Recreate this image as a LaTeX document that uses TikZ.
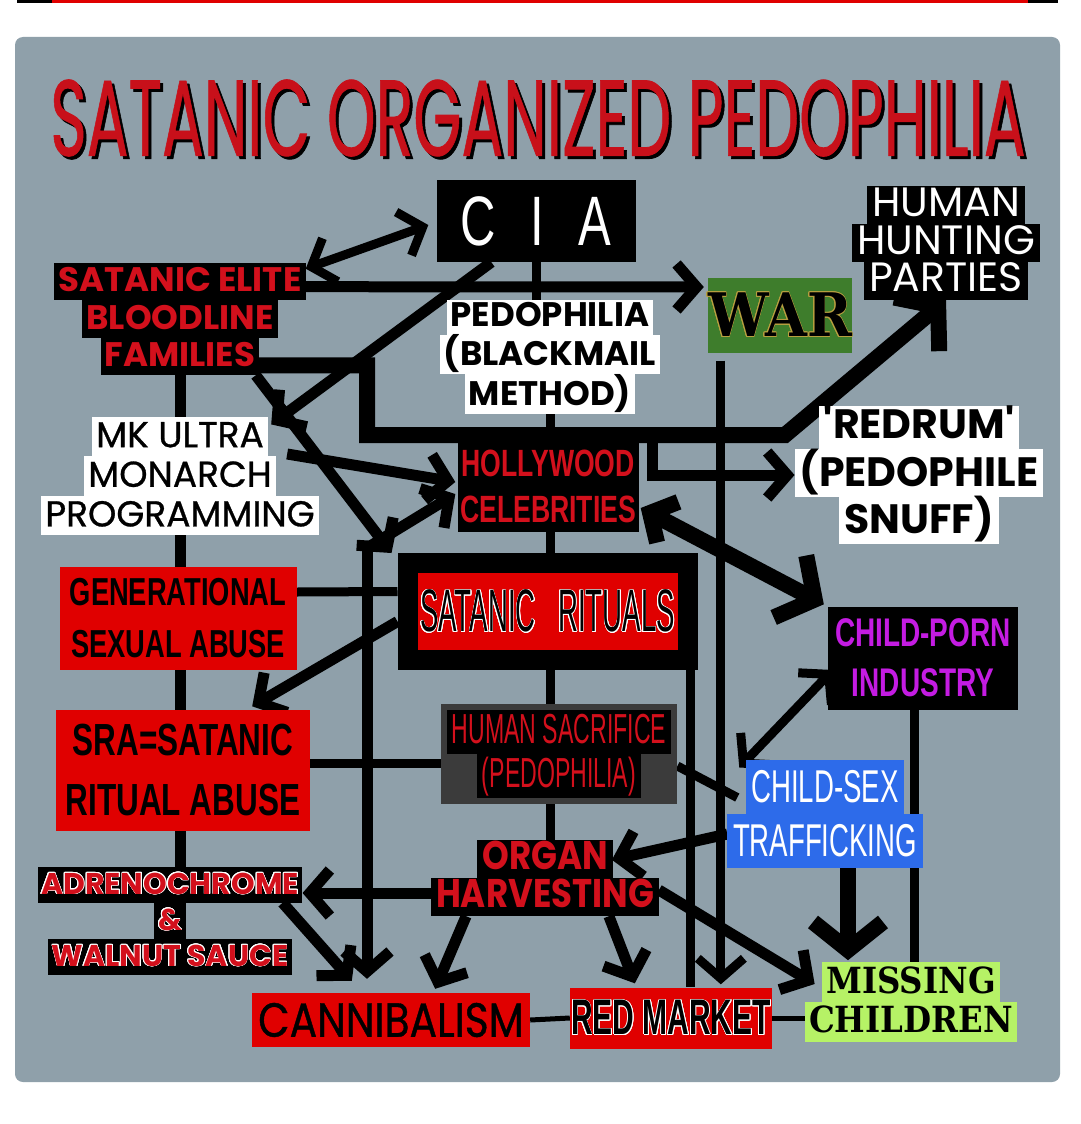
\documentclass[tikz,border=0pt]{standalone}
\usepackage{fontspec}
\usepackage{graphicx}
\usepackage{contour}
\usetikzlibrary{arrows.meta, calc, backgrounds, positioning}
\setmainfont{Liberation Sans}
\newfontfamily\geo[FakeStretch=0.85]{Poppins}
\newfontfamily\geoW{Poppins}
\newfontfamily\geoM[FakeBold=0.8]{Poppins}
\newfontfamily\geoMN[FakeBold=0.8, FakeStretch=0.85]{Poppins}
\newfontfamily\narrow[FakeStretch=0.7]{Liberation Sans}
\newfontfamily\mnarrow[FakeStretch=0.6]{Liberation Sans}
\newfontfamily\snarrow[FakeStretch=0.55]{Liberation Sans}
\newfontfamily\vnarrow[FakeStretch=0.46]{Liberation Sans}
\newfontfamily\slab[FakeStretch=0.9]{DejaVu Serif}
\definecolor{PanelGray}{HTML}{8FA0AA}
\definecolor{BoxRed}{HTML}{E00000}
\definecolor{TextRed}{HTML}{D3101C}
\definecolor{TitleRed}{HTML}{C8101A}
\definecolor{WarGreen}{HTML}{3E7D2C}
\definecolor{WarEdge}{HTML}{B8A040}
\definecolor{PornMagenta}{HTML}{C41CE2}
\definecolor{SexBlue}{HTML}{2D6BEA}
\definecolor{MissGreen}{HTML}{B6F266}
\definecolor{SacGray}{HTML}{3B3B3B}
\setlength{\fboxsep}{0pt}
\setlength{\lineskip}{0pt}
\setlength{\lineskiplimit}{0pt}
\newcommand{\hldp}{.25em}
\newcommand{\hlht}{1.1em}
\newcommand{\hl}[2]{\colorbox{#1}{\hspace{.12em}\rule[-\hldp]{0pt}{\hlht}#2\hspace{.12em}}}
\contourlength{0.7pt}

\begin{document}
\begin{tikzpicture}[x=1pt, y=-1pt,
    Chev/.tip={Straight Barb[length=20pt, width=46pt]},
    BigChev/.tip={Straight Barb[length=28pt, width=70pt]}]
    \tikzstyle{link} = [line width=11pt, black]
    \tikzstyle{midlink} = [line width=9pt, black]
    \tikzstyle{heavylink} = [line width=16pt, black]
    \tikzstyle{thinlink} = [line width=5pt, black]
    \tikzstyle{hlnode} = [inner sep=0pt, align=center]
    \tikzstyle{boxnode} = [inner sep=0pt, align=center, fill=BoxRed, text=black]
    \useasboundingbox (0,0) rectangle (1080,1124);

    % title
    \node [inner sep=0pt, text=black, font=\geoM] (titleshadow) at (541,121) {\resizebox{975pt}{76pt}{SATANIC ORGANIZED PEDOPHILIA}};
    \node [inner sep=0pt, text=TitleRed, font=\geoM] (title) at (538,118) {\resizebox{975pt}{76pt}{SATANIC ORGANIZED PEDOPHILIA}};

    % nodes
    \node [fill=black, text=white, inner sep=0pt, minimum width=199pt, minimum height=82pt, font=\narrow\fontsize{70}{70}\selectfont] (cia) at (536,221) {C \hspace{.3em}I \hspace{.3em}A};
    \node [hlnode, text=TextRed, font=\geoW\bfseries\fontsize{34}{0}\selectfont] (elite) at (180,319) {\hl{black}{SATANIC ELITE}\\\hl{black}{BLOODLINE}\\\hl{black}{FAMILIES}};
    \node [hlnode, text=black, font=\geoW\bfseries\fontsize{34}{0}\selectfont\def\hlht{1.02em}] (pedo) at (550,357) {\hl{white}{PEDOPHILIA}\\\hl{white}{(BLACKMAIL}\\\hl{white}{METHOD)}};
    \node [fill=WarGreen, text=black, inner sep=0pt, minimum width=140pt, minimum height=75pt, font=\slab\bfseries\fontsize{60}{60}\selectfont] (war) at (780,315) {\contour{WarEdge}{WAR}};
    \node [hlnode, text=white, font=\geoW\fontsize{41}{0}\selectfont\def\hlht{.92em}\def\hldp{.19em}] (hunting) at (946,243) {\hl{black}{HUMAN}\\\hl{black}{HUNTING}\\\hl{black}{PARTIES}};
    \node [hlnode, text=black, font=\geoM\fontsize{36}{0}\selectfont] (mk) at (180,476) {\hl{white}{MK ULTRA}\\\hl{white}{MONARCH}\\\hl{white}{PROGRAMMING}};
    \node [fill=black, text=TextRed, inner sep=0pt, align=center, minimum width=181pt, minimum height=92pt, font=\narrow\bfseries\fontsize{38}{46}\selectfont] (hollywood) at (548,486) {HOLLYWOOD\\CELEBRITIES};
    \node [hlnode, text=black, font=\geoW\bfseries\fontsize{41}{0}\selectfont\def\hlht{1.04em}] (redrum) at (919,475) {\hl{white}{'REDRUM'}\\\hl{white}{(PEDOPHILE}\\\hl{white}{SNUFF)}};
    \node [boxnode, minimum width=237pt, minimum height=103pt, font=\narrow\bfseries\fontsize{39}{52}\selectfont] (gen) at (178,618) {GENERATIONAL\\SEXUAL ABUSE};
    \node [boxnode, draw=black, line width=20pt, minimum width=280pt, minimum height=97pt, font=\vnarrow\fontsize{60}{60}\selectfont] (rituals) at (547.5,611.5) {\contour{white}{SATANIC\hspace{.25em} RITUALS}};
    \node [fill=black, text=PornMagenta, inner sep=0pt, align=center, minimum width=190pt, minimum height=103pt, font=\narrow\bfseries\fontsize{40}{50}\selectfont] (porn) at (923,658) {CHILD-PORN\\INDUSTRY};
    \node [boxnode, minimum width=254pt, minimum height=121pt, font=\narrow\bfseries\fontsize{45}{60}\selectfont] (sra) at (183,770) {SRA=SATANIC\\RITUAL ABUSE};
    \node [fill=SacGray, text=TextRed, inner sep=6pt, align=center, font=\snarrow\fontsize{42}{0}\selectfont\def\hlht{1.05em}] (sac) at (559,754) {\hl{black}{HUMAN SACRIFICE}\\\hl{black}{(PEDOPHILIA)}};
    \node [hlnode, text=white, font=\mnarrow\fontsize{46}{0}\selectfont\def\hlht{1.18em}] (sex) at (825,814) {\hl{SexBlue}{CHILD-SEX}\\\hl{SexBlue}{TRAFFICKING}};
    \node [hlnode, text=TextRed, font=\geo\bfseries\fontsize{40}{0}\selectfont\def\hlht{.95em}\def\hldp{.22em}] (organ) at (545,878) {\hl{black}{ORGAN}\\\hl{black}{HARVESTING}};
    \node [hlnode, text=TextRed, font=\geoW\bfseries\fontsize{30}{0}\selectfont\def\hlht{1.2em}\def\hldp{.3em}] (adreno) at (170,921) {\hl{black}{\contour{white}{ADRENOCHROME}}\\\hl{black}{\contour{white}{\&}}\\\hl{black}{\contour{white}{WALNUT SAUCE}}};
    \node [boxnode, minimum width=278pt, minimum height=54pt, font=\geoMN\fontsize{48}{48}\selectfont] (cannibal) at (391,1020) {CANNIBALISM};
    \node [boxnode, minimum width=202pt, minimum height=61pt, font=\mnarrow\bfseries\fontsize{50}{50}\selectfont] (redmarket) at (671,1018) {\contour{white}{RED MARKET}};
    \node [hlnode, text=black, font=\slab\bfseries\fontsize{36}{0}\selectfont] (missing) at (911,1002) {\hl{MissGreen}{MISSING}\\\hl{MissGreen}{CHILDREN}};

    \coordinate (knee) at (367,435);
    \coordinate (bend) at (785,435);
    \coordinate (hub) at (367,548);
    \coordinate (tap) at (652,435);

    \begin{scope}[on background layer]
        \fill[white] (0,0) rectangle (1080,1124);
        \fill[black] (17,0) rectangle (1058,3);
        \fill[BoxRed] (52,0) rectangle (1028,3);
        \fill[PanelGray, rounded corners=8pt] (15,37) rectangle (1060,1082);

        % top
        \draw [midlink, Chev-Chev] ($(elite.north east)+(0,6)$) -- ($(cia.west)+(-8,4)$);
        \draw [link, -Chev] ($(elite.north east)+(0,24)$) -- ($(war.west)+(-4,-28)$);
        \draw [midlink] (cia.south) -- (cia.south |- pedo.north);
        \draw [link, -Chev] ($(cia.south west)+(55,0)$) -- ($(mk.north east)+(-48,8)$);
        \draw [link] (elite.south) -- (elite.south |- adreno.north);
        \draw [heavylink, -BigChev] ($(elite.south)+(0,-10)$) -| (knee) -- (bend) -- (hunting.south);
        \draw [midlink] (pedo.south) -- (pedo.south |- organ.north);
        \draw [link, -Chev] ($(elite.south east)+(-50,0)$) -- ($(rituals.north west)+(-6,0)$);
        \draw [link, -Chev] (hub) -- ($(hollywood.west)+(-2,8)$);
        \draw [link, -Chev] (hub) -- ($(hub |- cannibal.north)+(0,-14)$);
        \draw [link, -Chev] ($(mk.east)+(-32,-22)$) -- ($(hollywood.west)+(-2,-4)$);
        \draw [link, -Chev] (tap) |- (redrum.west);

        % middle
        \draw [midlink] ($(gen.east)+(0,-26)$) -- ($(rituals.west)+(0,-20)$);
        \draw [link, -Chev] ($(rituals.west)+(0,10)$) -- ($(sra.north east)+(-58,-3)$);
        \draw [midlink] ($(sra.east)+(0,-7)$) -- ($(sac.west)+(0,9)$);
        \draw [midlink, -Chev] ($(war.south west)+(13,8)$) -- ($(war.south west |- redmarket.north)+(13,-3)$);
        \draw [midlink] ($(rituals.south east)+(-7,0)$) -- ($(rituals.south east |- redmarket.north)+(-7,0)$);
        \draw [heavylink, Chev-BigChev] ($(hollywood.east)+(2,22)$) -- ($(porn.north west)+(-4,-2)$);
        \draw [midlink, Chev-Chev] ($(porn.west)+(5,12)$) -- ($(sex.north west)+(12,8)$);
        \draw [midlink] ($(porn.south)+(-9,0)$) -- ($(porn.south |- missing.north)+(-9,0)$);
        \draw [midlink] ($(sac.east)+(0,12)$) -- ($(sex.north west)+(10,38)$);

        % bottom
        \draw [heavylink, -BigChev] ($(sex.south)+(23,0)$) -- ($(sex.south |- missing.north)+(23,-2)$);
        \draw [link, -Chev] ($(sex.west)+(0,20)$) -- ($(organ.north east)+(-47,20)$);
        \draw [link, -Chev] ($(organ.east)+(0,12)$) -- ($(missing.west)+(10,-18)$);
        \draw [link, -Chev] ($(organ.west)+(0,15)$) -- ($(adreno.east)+(0,-28)$);
        \draw [link, -Chev] ($(adreno.north east)+(-20,36)$) -- ($(cannibal.north west)+(100,-12)$);
        \draw [link, -Chev] ($(organ.south west)+(35,0)$) -- ($(cannibal.north east)+(-95,-4)$);
        \draw [link, -Chev] ($(organ.south east)+(-50,0)$) -- ($(redmarket.north west)+(65,-4)$);
        \draw [thinlink] (cannibal.east) -- (redmarket.west);
        \draw [thinlink] (redmarket.east) -- (redmarket.east -| missing.west);
    \end{scope}
\end{tikzpicture}
\end{document}
